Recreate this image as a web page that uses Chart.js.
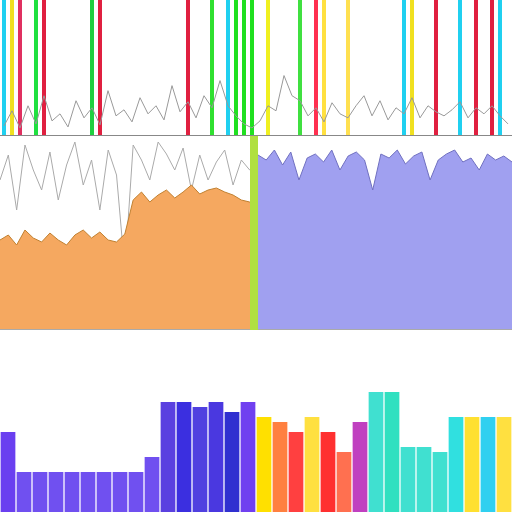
<!DOCTYPE html>
<html><head>
<script src="https://cdn.jsdelivr.net/npm/chart.js@4"></script>
<style>
body{margin:0;background:#fff;}
.box{position:absolute;}
</style></head><body>
<div class="box" style="left:0;top:0;width:512px;height:136px"><canvas id="top"></canvas></div>
<div class="box" style="left:0;top:136px;width:258px;height:194px"><canvas id="midL"></canvas></div>
<div class="box" style="left:258px;top:136px;width:254px;height:194px"><canvas id="midR"></canvas></div>
<div class="box" style="left:0;top:330px;width:512px;height:182px"><canvas id="bot"></canvas></div>
<script>
// top band: thin coloured stripes and grey spikes
const topColors = ['#20d0f0','#f0e020','#e03060','','#20e040','#e02040','','','','','','#20d040','#e02040','','','','','','','','','','','#e02040','','','#30e030','','#20d0f0','#20e020','#20e020','#20e020',
  '','#f0f020','','','','#40e040','','#ff3050','#ffe040','','','#ffe050','','','','','','','#20d0f0','#f0e020','','','#e02040','','','#20d0f0','','#e02040','','#e02040','#20d0f0',''];
const topSpikes = [10,25,8,30,12,40,15,22,9,35,18,28,11,45,20,26,14,38,22,30,16,50,24,34,18,40,28,55,30,20,12,8,
  15,30,25,60,40,35,20,28,14,33,22,18,30,40,20,35,16,28,22,38,18,30,24,20,26,34,18,28,22,30,20,12];
const topCats = topColors.map((c, i) => i);

// middle band
const midLabels = Array.from({length: 32}, (_, i) => i);
const orangeVals = [90,95,85,100,92,88,97,90,85,95,100,92,98,90,88,96,130,138,128,135,140,132,138,145,136,140,142,138,135,130,128,130];
const greyVals = [150,175,120,185,160,140,178,130,165,188,145,170,120,180,155,60,185,170,150,188,176,160,182,140,175,150,168,180,145,170,160,155];
const purpleVals = [175,170,180,165,178,150,172,176,168,180,160,174,178,170,140,176,172,180,166,174,178,150,170,176,180,168,172,160,176,170,174,168];

// bottom band
const botVals = [80,40,40,40,40,40,40,40,40,55,110,110,105,110,100,110,95,90,80,95,80,60,90,120,120,65,65,60,95,95,95,95];
const botColors = ['#6a3ff0','#7050f0','#7050f0','#7050f0','#7050f0','#7050f0','#7050f0','#7050f0','#7050f0','#7050f0',
  '#5a40e0','#3b2fe0','#5040e0','#4a38e0','#3030d0','#7040f0','#ffe000','#ff8040','#ff4040','#ffe040','#ff3030','#ff7050',
  '#c040c0','#40e0d0','#30e0c0','#40e0d0','#40e0d0','#40e0d0','#30e0e0','#ffe030','#30d0f0','#ffe040'];
const botLabels = botVals.map((v, i) => i);

const hidden = {x: {display: false}, y: {display: false}};
const base = {responsive: true, maintainAspectRatio: false, animation: false,
  plugins: {legend: {display: false}, tooltip: {enabled: false}}, layout: {padding: 0}};

new Chart(document.getElementById('top'), {
  type: 'bar',
  data: {labels: topCats, datasets: [
    {type: 'line', data: topSpikes, borderColor: '#999', borderWidth: 1, pointRadius: 0, tension: 0},
    {data: topColors.map(c => c ? 135 : null), backgroundColor: topColors, barPercentage: 0.5, categoryPercentage: 1}
  ]},
  options: {...base, scales: {x: {display: false}, y: {display: false, min: 0, max: 135}}}
});

new Chart(document.getElementById('midL'), {
  type: 'line',
  data: {labels: midLabels, datasets: [
    {data: orangeVals, borderColor: '#c08030', backgroundColor: '#f5a860', fill: 'origin', borderWidth: 1, pointRadius: 0},
    {data: greyVals, borderColor: '#aaa', borderWidth: 1, pointRadius: 0}
  ]},
  options: {...base, scales: {x: {display: false}, y: {display: false, min: 0, max: 194}}}
});

new Chart(document.getElementById('midR'), {
  type: 'line',
  data: {labels: midLabels, datasets: [
    {data: purpleVals, borderColor: '#7070c0', backgroundColor: '#a0a0f0', fill: 'origin', borderWidth: 1, pointRadius: 0}
  ]},
  options: {...base, scales: {x: {display: false}, y: {display: false, min: 0, max: 194}}}
});

new Chart(document.getElementById('bot'), {
  type: 'bar',
  data: {labels: botLabels, datasets: [
    {data: botVals, backgroundColor: botColors, barPercentage: 0.92, categoryPercentage: 1}
  ]},
  options: {...base, scales: {x: {display: false}, y: {display: false, min: 0, max: 182}}}
});
</script>
<div style="position:absolute;left:0;top:135px;width:512px;height:1px;background:#888"></div>
<div style="position:absolute;left:0;top:329px;width:512px;height:1px;background:#aaa"></div>
<div style="position:absolute;left:250px;top:136px;width:8px;height:194px;background:#b0e040"></div>
</body></html>
